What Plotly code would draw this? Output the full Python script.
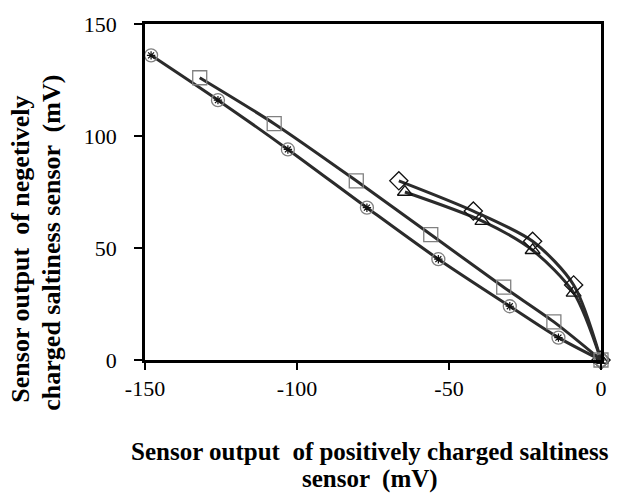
import plotly.graph_objects as go

# Data
circle_x = [-148, -126, -103, -77, -53.5, -30, -14, 0]
circle_y = [136, 116, 94, 68, 45, 24, 10, 0]

square_x = [-132, -107.5, -80.5, -56, -32, -15.5, 0]
square_y = [126, 105.5, 80, 56, 32.5, 17, 0]

diamond_x = [-66.5, -42, -22.5, -9, 0]
diamond_y = [80, 66.5, 53, 33.5, 0]

triangle_x = [-64.5, -39, -22.5, -9, 0]
triangle_y = [75, 62, 49, 30, 0]

x_ticks = [-150, -100, -50, 0]
y_ticks = [0, 50, 100, 150]

x_title = ["Sensor output  of positively charged saltiness", "sensor  (mV)"]
y_title = ["Sensor output  of negetively", "charged saltiness sensor  (mV)"]

FONT = "Liberation Serif, Times New Roman, serif"
LINE = "#2b2b2b"

# plot area in pixels
L, R, T, B = 145, 601, 22, 360
W, H = R - L, B - T

fig = go.Figure()

def add_series(x, y, symbol, mcolor, msize):
    fig.add_trace(go.Scatter(
        x=x, y=y, mode="lines", line=dict(color=LINE, width=3, shape="spline", smoothing=0.8),
        showlegend=False, hoverinfo="skip", cliponaxis=False))
    fig.add_trace(go.Scatter(
        x=x, y=y, mode="markers",
        marker=dict(symbol=symbol, size=msize, color=mcolor,
                    line=dict(color=mcolor, width=1.3)),
        showlegend=False, cliponaxis=False))

add_series(triangle_x, triangle_y, "triangle-up-open", "#111111", 13)
add_series(diamond_x, diamond_y, "diamond-open", "#111111", 14)
add_series(circle_x, circle_y, "circle-open", "#808080", 13)
fig.add_trace(go.Scatter(x=circle_x, y=circle_y, mode="markers",
                         marker=dict(symbol="asterisk-open", size=7, color="#111",
                                     line=dict(color="#111", width=1.2)),
                         showlegend=False, cliponaxis=False))
add_series(square_x, square_y, "square-open", "#808080", 14)

def px_x(p):
    return (p - L) / W

def px_y(p):
    return (B - p) / H

annots = [
    dict(text="<b>%s</b>" % x_title[0], x=px_x(370), y=px_y(452), font_size=25),
    dict(text="<b>%s</b>" % x_title[1], x=px_x(370), y=px_y(480), font_size=25),
    dict(text="<b>%s</b>" % y_title[0], x=px_x(21), y=px_y(249), textangle=-90, font_size=26),
    dict(text="<b>%s</b>" % y_title[1], x=px_x(52), y=px_y(242), textangle=-90, font_size=26),
]
for a in annots:
    fs = a.pop("font_size")
    a.update(xref="paper", yref="paper", xanchor="center", yanchor="middle",
             showarrow=False, font=dict(family=FONT, size=fs, color="black"))

fig.update_layout(
    width=625, height=496,
    margin=dict(l=L, r=625 - R, t=T, b=496 - B),
    paper_bgcolor="white", plot_bgcolor="white",
    font=dict(family=FONT, size=22, color="black"),
    xaxis=dict(range=[-150, 0], tickvals=x_ticks, ticktext=[str(v) for v in x_ticks],
               showgrid=False, zeroline=False, showline=True, linecolor="black", linewidth=2.5,
               mirror=True, ticks="outside", ticklen=7, tickwidth=1.5, tickcolor="black",
               ticklabelstandoff=0, tickfont=dict(family=FONT, size=22)),
    yaxis=dict(range=[0, 150], tickvals=y_ticks, ticktext=[str(v) for v in y_ticks],
               showgrid=False, zeroline=False, showline=True, linecolor="black", linewidth=2.5,
               mirror=True, ticks="outside", ticklen=8, tickwidth=1.5, tickcolor="black",
               ticklabelstandoff=13, tickfont=dict(family=FONT, size=22)),
    annotations=annots,
)

fig.write_html("out.html", config={"displayModeBar": False},
               post_script="document.body.style.margin='0';document.body.style.padding='0';")
